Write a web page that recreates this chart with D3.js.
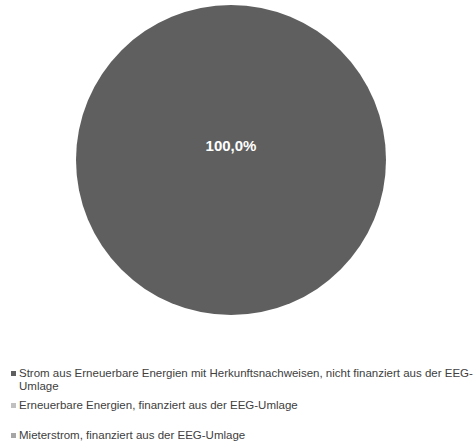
<!DOCTYPE html>
<html>
<head>
<meta charset="utf-8">
<script src="https://cdn.jsdelivr.net/npm/d3@7"></script>
<style>
  body { margin: 0; background: #fff; }
  svg text { font-family: "Liberation Sans", Arial, sans-serif; }
</style>
</head>
<body>
<svg width="476" height="441"></svg>
<script>
// categories and shares (percent)
var categories = [
  "Strom aus Erneuerbare Energien mit Herkunftsnachweisen, nicht finanziert aus der EEG-Umlage",
  "Erneuerbare Energien, finanziert aus der EEG-Umlage",
  "Mieterstrom, finanziert aus der EEG-Umlage"
];
var values = [100, 0, 0];
var colors = ["#5f5f5f", "#c0c0c0", "#a6a6a6"];
// legend lines (first entry wraps)
var legendLines = [
  ["Strom aus Erneuerbare Energien mit Herkunftsnachweisen, nicht finanziert aus der EEG-", "Umlage"],
  ["Erneuerbare Energien, finanziert aus der EEG-Umlage"],
  ["Mieterstrom, finanziert aus der EEG-Umlage"]
];

var svg = d3.select("svg");
var cx = 231, cy = 160, r = 155;

var pie = d3.pie().sort(null).value(function(d){ return d; });
var arc = d3.arc().innerRadius(0).outerRadius(r);
var color = d3.scaleOrdinal().domain(categories).range(colors);

var g = svg.append("g").attr("transform", "translate(" + cx + "," + cy + ")");
var slices = pie(values);

g.selectAll("path").data(slices).enter()
  .append("path")
  .attr("d", arc)
  .attr("fill", function(d, i){ return color(categories[i]); });

// labels only for non-zero slices
var full = function(d){ return d.endAngle - d.startAngle >= 2 * Math.PI - 1e-6; };
g.selectAll("text.lbl").data(slices.filter(function(d){ return d.value > 0; })).enter()
  .append("text")
  .attr("class", "lbl")
  .attr("x", function(d){ return full(d) ? 0 : arc.centroid(d)[0]; })
  .attr("y", function(d){ return full(d) ? -14 : arc.centroid(d)[1]; })
  .attr("text-anchor", "middle")
  .attr("dy", "0.35em")
  .attr("fill", "#fff")
  .attr("font-weight", "bold")
  .attr("font-size", "15px")
  .text(function(d){ return d3.format(".1f")(d.value).replace(".", ",") + "%"; });

// legend
var legendY = [377, 409, 439];
var leg = svg.selectAll("g.leg").data(categories).enter()
  .append("g").attr("class", "leg")
  .attr("transform", function(d, i){ return "translate(11," + legendY[i] + ")"; });

leg.append("rect")
  .attr("x", 0).attr("y", -6)
  .attr("width", 5).attr("height", 5)
  .attr("fill", function(d){ return color(d); });

leg.each(function(d, i){
  var t = d3.select(this).append("text")
    .attr("fill", "#404040")
    .attr("font-size", "11.5px");
  legendLines[i].forEach(function(line, j){
    t.append("tspan").attr("x", 8).attr("y", j * 13).text(line);
  });
});
</script>
</body>
</html>
